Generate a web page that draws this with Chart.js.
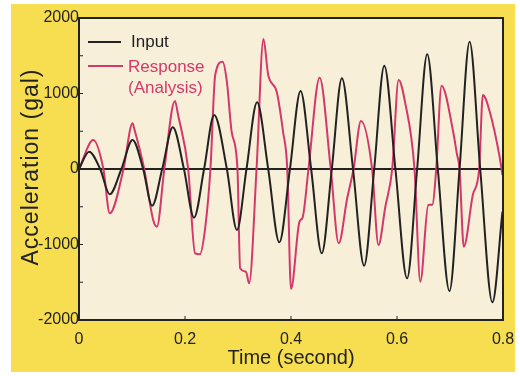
<!DOCTYPE html>
<html>
<head>
<meta charset="utf-8">
<script src="https://cdn.jsdelivr.net/npm/chart.js@4.4.1/dist/chart.umd.min.js"></script>
<style>
  html, body { margin: 0; padding: 0; background: #fff; }
  #wrap { width: 520px; height: 376px; }
</style>
</head>
<body>
<div id="wrap"><canvas id="chart" width="520" height="376"></canvas></div>
<script>
// input wave (black) - peaks, troughs and zero crossings
const inputTime = [0, 0.019, 0.040, 0.058, 0.080, 0.101, 0.121, 0.138, 0.157, 0.177,
    0.198, 0.217, 0.236, 0.255, 0.279, 0.298, 0.316, 0.336, 0.357, 0.378,
    0.398, 0.418, 0.438, 0.458, 0.477, 0.496, 0.517, 0.538, 0.557, 0.576,
    0.597, 0.619, 0.638, 0.657, 0.677, 0.699, 0.718, 0.737, 0.757, 0.780, 0.799];
const inputAccel = [0, 230, 0, -335, 0, 384, 0, -486, 0, 552,
    0, -645, 0, 715, 0, -808, 0, 883, 0, -971,
    0, 1033, 0, -1117, 0, 1201, 0, -1281, 0, 1368,
    0, -1448, 0, 1519, 0, -1616, 0, 1686, 0, -1766, -565];

// response (analysis), red
const responseTime = [0, 0.027, 0.046, 0.058, 0.084, 0.101, 0.104, 0.123, 0.140, 0.147,
    0.161, 0.181, 0.187, 0.206, 0.219, 0.228, 0.238, 0.248, 0.257, 0.271,
    0.279, 0.288, 0.299, 0.304, 0.315, 0.321, 0.335, 0.348, 0.357, 0.373,
    0.385, 0.393, 0.400, 0.416, 0.422, 0.433, 0.454, 0.475, 0.490, 0.506,
    0.518, 0.532, 0.553, 0.565, 0.578, 0.591, 0.603, 0.615, 0.633, 0.644,
    0.659, 0.667, 0.674, 0.684, 0.706, 0.713, 0.718, 0.726, 0.743, 0.755,
    0.762, 0.775, 0.793, 0.799];
const responseAccel = [0, 384, 0, -587, 0, 605, 539, 0, -675, -764,
    0, 901, 715, 0, -1117, -1130, -786, 0, 1245, 1421,
    1156, 494, 0, -1315, -1360, -1514, 0, 1722, 1245, 1024,
    494, 0, -1589, -698, -640, 0, 1209, 0, -984, -388,
    0, 636, 0, -1007, -500, 0, 1180, 892, 0, -1492,
    -477, -470, 0, 1103, 494, 200, 0, -1029, -344, 0,
    980, 759, 185, -80];

const xTicks = [0, 0.2, 0.4, 0.6, 0.8];
const yTicks = [-2000, -1000, 0, 1000, 2000];

const YELLOW = '#f6de50';
const CREAM = '#f8efd9';
const RED = '#d4386a';
const INK = '#222';
const FONT = '"Liberation Sans", Arial, sans-serif';

function points(xs, ys) {
    return xs.map((x, i) => ({ x, y: ys[i] }));
}

// yellow card, cream plot area
const backdrop = {
    id: 'backdrop',
    beforeDraw(chart) {
        const { ctx, chartArea: a } = chart;
        ctx.save();
        ctx.fillStyle = '#fff';
        ctx.fillRect(0, 0, chart.width, chart.height);
        ctx.fillStyle = YELLOW;
        ctx.fillRect(11, 4, 504, 368);
        ctx.fillStyle = CREAM;
        ctx.fillRect(a.left, a.top, a.right - a.left, a.bottom - a.top);
        ctx.restore();
    }
};

// frame, inward ticks, y title (wide lettering) and the legend inside the plot
const frame = {
    id: 'frame',
    afterDatasetsDraw(chart) {
        const { ctx, chartArea: a, scales } = chart;
        ctx.save();
        ctx.strokeStyle = INK;
        ctx.lineWidth = 1;
        ctx.beginPath();
        for (let v = -1500; v <= 1500; v += 500) {
            const y = scales.y.getPixelForValue(v);
            ctx.moveTo(a.left, y);
            ctx.lineTo(a.left + 4, y);
        }
        for (let i = 1; i < xTicks.length - 1; i++) {
            const x = scales.x.getPixelForValue(xTicks[i]);
            ctx.moveTo(x, a.bottom);
            ctx.lineTo(x, a.bottom - 4);
        }
        ctx.stroke();

        ctx.lineWidth = 2;
        ctx.strokeRect(a.left, a.top, a.right - a.left, a.bottom - a.top);

        // y axis title
        ctx.save();
        ctx.translate(32, (a.top + a.bottom) / 2 - 2);
        ctx.rotate(-Math.PI / 2);
        ctx.font = '23px ' + FONT;
        ctx.letterSpacing = '1px';
        ctx.fillStyle = INK;
        ctx.textAlign = 'center';
        ctx.textBaseline = 'middle';
        ctx.fillText('Acceleration (gal)', 0, 0);
        ctx.restore();

        // legend
        ctx.lineWidth = 2;
        ctx.strokeStyle = INK;
        ctx.beginPath();
        ctx.moveTo(88, 42);
        ctx.lineTo(121, 42);
        ctx.stroke();
        ctx.strokeStyle = RED;
        ctx.beginPath();
        ctx.moveTo(88, 66);
        ctx.lineTo(123, 66);
        ctx.stroke();
        ctx.font = '17px ' + FONT;
        ctx.textBaseline = 'middle';
        ctx.fillStyle = INK;
        ctx.fillText('Input', 131, 42);
        ctx.fillStyle = RED;
        ctx.fillText('Response', 128, 67);
        ctx.fillText('(Analysis)', 128, 88);
        ctx.restore();
    }
};

new Chart(document.getElementById('chart'), {
    type: 'line',
    data: {
        datasets: [{
            label: 'Input',
            data: points(inputTime, inputAccel),
            borderColor: INK,
            borderWidth: 2,
            pointRadius: 0,
            cubicInterpolationMode: 'monotone'
        }, {
            label: 'Response (Analysis)',
            data: points(responseTime, responseAccel),
            borderColor: RED,
            borderWidth: 2,
            pointRadius: 0,
            cubicInterpolationMode: 'monotone'
        }]
    },
    options: {
        responsive: false,
        animation: false,
        layout: { padding: { top: 18, right: 17, left: 0, bottom: 0 } },
        plugins: {
            legend: { display: false },
            tooltip: { enabled: false }
        },
        scales: {
            x: {
                type: 'linear',
                min: 0,
                max: 0.8,
                afterFit(scale) { scale.height = 56; },
                afterBuildTicks(scale) { scale.ticks = xTicks.map(v => ({ value: v })); },
                grid: { display: false },
                border: { display: false },
                ticks: {
                    padding: 2,
                    color: INK,
                    font: { family: FONT, size: 16 },
                    callback: v => String(v)
                },
                title: {
                    display: true,
                    text: 'Time (second)',
                    color: INK,
                    padding: { top: 0, bottom: 6 },
                    font: { family: FONT, size: 20 }
                }
            },
            y: {
                min: -2000,
                max: 2000,
                afterFit(scale) { scale.width = 79; },
                afterBuildTicks(scale) { scale.ticks = yTicks.map(v => ({ value: v })); },
                grid: {
                    drawTicks: false,
                    lineWidth: 2,
                    color: c => c.tick && c.tick.value === 0 ? INK : 'rgba(0,0,0,0)'
                },
                border: { display: false },
                ticks: {
                    padding: 0,
                    color: INK,
                    font: { family: FONT, size: 16 },
                    callback: v => String(v)
                },
                title: { display: false }
            }
        }
    },
    plugins: [backdrop, frame]
});
</script>
</body>
</html>
